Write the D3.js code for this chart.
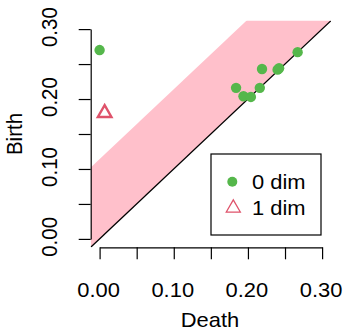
<!DOCTYPE html>
<html>
<head>
<meta charset="utf-8">
<script src="https://cdn.jsdelivr.net/npm/d3@7"></script>
<style>
  html, body { margin: 0; padding: 0; background: #fff; }
  svg { display: block; }
  text { font-family: "Liberation Sans", Arial, sans-serif; fill: #000; }
</style>
</head>
<body>
<svg id="chart" width="345" height="330"></svg>
<script>
// ---- data ----
const dim0Death = [0.000, 0.184, 0.194, 0.204, 0.216, 0.219, 0.240, 0.242, 0.267];
const dim0Birth = [0.270, 0.216, 0.204, 0.203, 0.216, 0.243, 0.242, 0.244, 0.267];
const dim1Death = [0.0068];
const dim1Birth = [0.180];
const bandWidth = 0.114;
const tickValues = [0, 0.05, 0.10, 0.15, 0.20, 0.25, 0.30];
const tickLabels = ["0.00", "", "0.10", "", "0.20", "", "0.30"];
const legendLabels = ["0 dim", "1 dim"];
const xTitle = "Death";
const yTitle = "Birth";

// ---- layout ----
const svg = d3.select("#chart");
const plot = { left: 90.7, right: 331, top: 20.7, bottom: 247.3 };
const lim = [-0.012, 0.312];
const x = d3.scaleLinear().domain(lim).range([plot.left, plot.right]);
const y = d3.scaleLinear().domain(lim).range([plot.bottom, plot.top]);
const green = "#55B74B";
const red = "#DF536B";
const fs = 20.5;
const sx = 1.07;

svg.append("defs").append("clipPath").attr("id", "clip")
  .append("rect").attr("x", plot.left).attr("y", plot.top)
  .attr("width", plot.right - plot.left).attr("height", plot.bottom - plot.top);

const g = svg.append("g").attr("clip-path", "url(#clip)");

// band
const bandPts = [[lim[0], lim[0]], [lim[1], lim[1]], [lim[1], lim[1] + bandWidth], [lim[0], lim[0] + bandWidth]];
g.append("path")
  .attr("d", d3.line().x(d => x(d[0])).y(d => y(d[1]))(bandPts) + "Z")
  .attr("fill", "#FFC0CB");

// diagonal
g.append("line")
  .attr("x1", x(lim[0])).attr("y1", y(lim[0]))
  .attr("x2", x(lim[1])).attr("y2", y(lim[1]))
  .attr("stroke", "#000").attr("stroke-width", 1.3);

// points dim 0
g.selectAll("circle.d0").data(dim0Death.map((d, i) => [d, dim0Birth[i]]))
  .enter().append("circle")
  .attr("cx", d => x(d[0])).attr("cy", d => y(d[1])).attr("r", 5.2)
  .attr("fill", green);

// points dim 1
const tri = d3.symbol().type(d3.symbolTriangle).size(80);
svg.selectAll("path.d1").data(dim1Death.map((d, i) => [d, dim1Birth[i]]))
  .enter().append("path")
  .attr("d", tri)
  .attr("transform", d => `translate(${x(d[0])},${y(d[1])})`)
  .attr("fill", "none").attr("stroke", red).attr("stroke-width", 2.4);

// axes
const xa = d3.scaleLinear().domain([0, 0.3]).range([x(0), x(0.3)]);
const ya = d3.scaleLinear().domain([0, 0.3]).range([y(0), y(0.3)]);
const xAxis = svg.append("g").attr("transform", `translate(0,${plot.bottom})`)
  .call(d3.axisBottom(xa).tickValues(tickValues).tickSize(12).tickSizeOuter(0).tickFormat(""));
const yAxis = svg.append("g").attr("transform", `translate(${plot.left},0)`)
  .call(d3.axisLeft(ya).tickValues(tickValues).tickSize(12).tickSizeOuter(0).tickFormat(""));
[xAxis, yAxis].forEach(a => {
  a.selectAll("path, line").attr("stroke", "#000").attr("stroke-width", 1.2);
  a.select(".domain").attr("fill", "none");
});

// tick labels
tickValues.forEach((v, i) => {
  if (!tickLabels[i]) return;
  svg.append("text")
    .attr("transform", `translate(${xa(v) - 1},296.5) scale(${sx},1)`)
    .attr("text-anchor", "middle").attr("font-size", fs).text(tickLabels[i]);
  svg.append("text")
    .attr("transform", `translate(56.7,${ya(v) - 2}) scale(${sx},1) rotate(-90)`)
    .attr("text-anchor", "middle").attr("font-size", fs).text(tickLabels[i]);
});

// axis titles
svg.append("text")
  .attr("transform", `translate(210,326.5) scale(${sx},1)`)
  .attr("text-anchor", "middle").attr("font-size", fs).text(xTitle);
svg.append("text")
  .attr("transform", `translate(21.7,134) scale(${sx},1) rotate(-90)`)
  .attr("text-anchor", "middle").attr("font-size", fs).text(yTitle);

// legend
const lg = svg.append("g");
lg.append("rect").attr("x", 211).attr("y", 154).attr("width", 110).attr("height", 81)
  .attr("fill", "#fff").attr("stroke", "#000").attr("stroke-width", 1.2);
lg.append("circle").attr("cx", 232.3).attr("cy", 181.7).attr("r", 5).attr("fill", green);
lg.append("path").attr("d", d3.symbol().type(d3.symbolTriangle).size(85)())
  .attr("transform", "translate(233.3,208)")
  .attr("fill", "none").attr("stroke", red).attr("stroke-width", 1.3);
legendLabels.forEach((t, i) => {
  lg.append("text")
    .attr("transform", `translate(252,${[181.7, 207.3][i] + 7.3}) scale(${sx},1)`)
    .attr("font-size", fs).text(t);
});
</script>
</body>
</html>
